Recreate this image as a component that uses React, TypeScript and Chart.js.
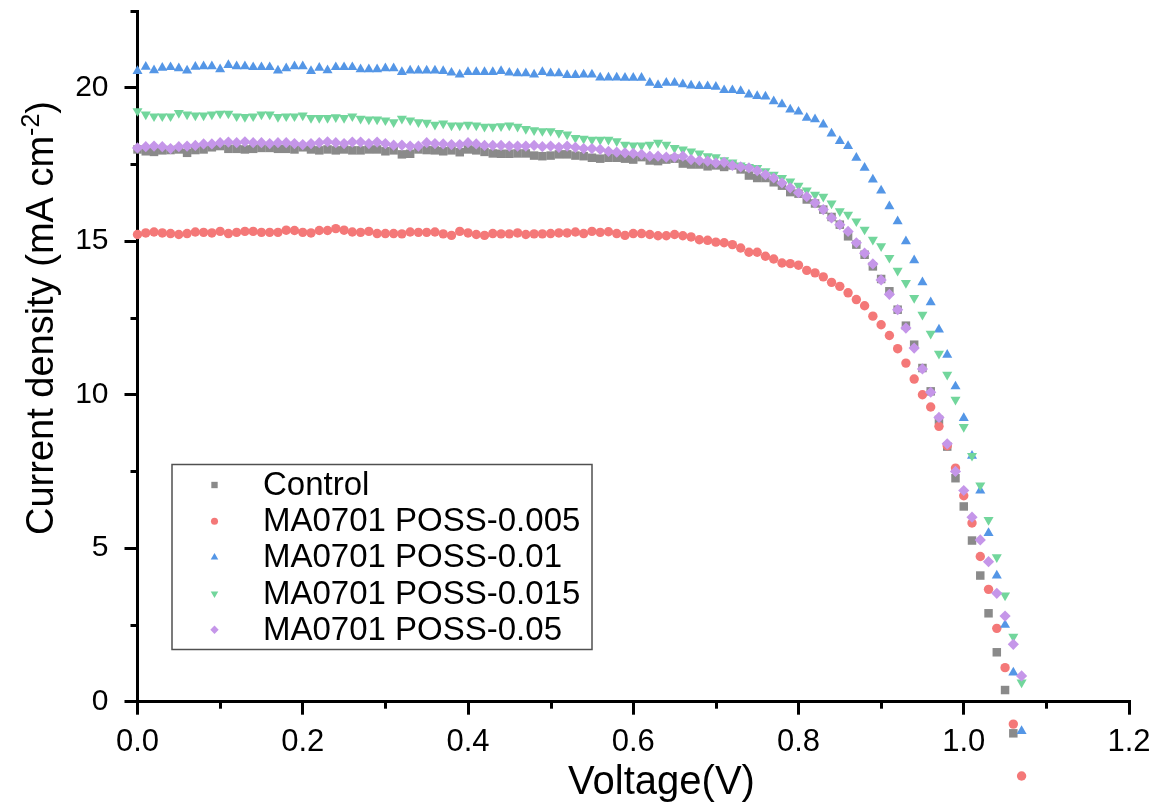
import React, { useEffect, useRef } from 'react';
import { Chart, registerables } from 'chart.js';
import { drawPoint } from 'chart.js/helpers';

Chart.register(...registerables);

// ---------- data ----------
const VOLTAGE = [
  0.00, 0.01, 0.02, 0.03, 0.04, 0.05, 0.06, 0.07, 0.08, 0.09,
  0.10, 0.11, 0.12, 0.13, 0.14, 0.15, 0.16, 0.17, 0.18, 0.19,
  0.20, 0.21, 0.22, 0.23, 0.24, 0.25, 0.26, 0.27, 0.28, 0.29,
  0.30, 0.31, 0.32, 0.33, 0.34, 0.35, 0.36, 0.37, 0.38, 0.39,
  0.40, 0.41, 0.42, 0.43, 0.44, 0.45, 0.46, 0.47, 0.48, 0.49,
  0.50, 0.51, 0.52, 0.53, 0.54, 0.55, 0.56, 0.57, 0.58, 0.59,
  0.60, 0.61, 0.62, 0.63, 0.64, 0.65, 0.66, 0.67, 0.68, 0.69,
  0.70, 0.71, 0.72, 0.73, 0.74, 0.75, 0.76, 0.77, 0.78, 0.79,
  0.80, 0.81, 0.82, 0.83, 0.84, 0.85, 0.86, 0.87, 0.88, 0.89,
  0.90, 0.91, 0.92, 0.93, 0.94, 0.95, 0.96, 0.97, 0.98, 0.99,
  1.00, 1.01, 1.02, 1.03, 1.04, 1.05, 1.06, 1.07,
];

const CONTROL = [
  17.99, 17.93, 17.91, 17.96, 17.97, 17.99, 17.88, 17.97, 17.99, 18.06,
  18.10, 18.01, 18.01, 17.99, 18.01, 18.04, 18.04, 18.01, 18.01, 17.99,
  18.06, 17.99, 17.96, 17.99, 17.96, 17.99, 17.96, 17.96, 17.99, 17.99,
  17.93, 17.96, 17.83, 17.85, 17.99, 17.97, 17.96, 17.93, 17.96, 17.90,
  17.99, 17.96, 17.91, 17.86, 17.85, 17.85, 17.86, 17.86, 17.79, 17.77,
  17.79, 17.83, 17.83, 17.79, 17.77, 17.72, 17.69, 17.72, 17.72, 17.69,
  17.66, 17.74, 17.63, 17.61, 17.66, 17.69, 17.53, 17.50, 17.50, 17.44,
  17.47, 17.42, 17.47, 17.34, 17.14, 17.06, 17.06, 16.92, 16.81, 16.60,
  16.55, 16.36, 16.23, 16.03, 15.79, 15.54, 15.16, 14.89, 14.56, 14.18,
  13.77, 13.37, 12.77, 12.25, 11.63, 10.87, 10.11, 9.18, 8.31, 7.28,
  6.36, 5.25, 4.11, 2.88, 1.61, 0.38, -1.03,
];

const POSS_0005 = [
  15.22, 15.27, 15.30, 15.27, 15.25, 15.22, 15.25, 15.30, 15.29, 15.27,
  15.32, 15.25, 15.29, 15.32, 15.32, 15.29, 15.29, 15.29, 15.36, 15.35,
  15.29, 15.27, 15.35, 15.35, 15.41, 15.36, 15.30, 15.29, 15.32, 15.25,
  15.25, 15.25, 15.24, 15.30, 15.29, 15.29, 15.30, 15.24, 15.19, 15.32,
  15.27, 15.22, 15.19, 15.25, 15.24, 15.24, 15.27, 15.22, 15.24, 15.24,
  15.25, 15.27, 15.27, 15.30, 15.25, 15.32, 15.29, 15.31, 15.25, 15.19,
  15.25, 15.25, 15.22, 15.18, 15.18, 15.22, 15.18, 15.14, 15.05, 15.03,
  14.97, 14.95, 14.89, 14.78, 14.64, 14.64, 14.51, 14.42, 14.29, 14.27,
  14.22, 14.05, 13.97, 13.84, 13.66, 13.53, 13.32, 13.10, 12.90, 12.56,
  12.28, 11.93, 11.50, 11.03, 10.51, 10.00, 9.60, 8.97, 8.34, 7.61,
  6.71, 5.82, 4.73, 3.66, 2.39, 1.11, -0.73, -2.42,
];

const POSS_001 = [
  20.54, 20.68, 20.57, 20.65, 20.67, 20.63, 20.56, 20.68, 20.70, 20.70,
  20.60, 20.74, 20.70, 20.70, 20.67, 20.67, 20.67, 20.56, 20.63, 20.70,
  20.70, 20.54, 20.65, 20.57, 20.67, 20.67, 20.67, 20.60, 20.60, 20.60,
  20.63, 20.63, 20.51, 20.56, 20.56, 20.56, 20.56, 20.54, 20.49, 20.43,
  20.51, 20.51, 20.51, 20.51, 20.54, 20.49, 20.47, 20.47, 20.43, 20.51,
  20.47, 20.47, 20.41, 20.41, 20.43, 20.43, 20.33, 20.33, 20.33, 20.32,
  20.32, 20.32, 20.16, 20.09, 20.16, 20.16, 20.11, 20.07, 20.05, 20.05,
  20.03, 19.92, 19.92, 19.89, 19.78, 19.73, 19.71, 19.56, 19.46, 19.29,
  19.22, 19.02, 18.97, 18.80, 18.51, 18.26, 18.10, 17.72, 17.39, 17.01,
  16.65, 16.14, 15.65, 15.00, 14.38, 13.66, 13.01, 12.12, 11.30, 10.27,
  9.24, 8.01, 6.88, 5.49, 4.11, 2.50, 0.95, -0.96,
];

const POSS_0015 = [
  19.24, 19.13, 19.07, 19.07, 19.07, 19.18, 19.13, 19.10, 19.10, 19.13,
  19.16, 19.16, 19.07, 19.05, 19.07, 19.13, 19.13, 19.05, 19.07, 19.07,
  19.10, 19.02, 19.02, 19.02, 19.04, 19.02, 19.07, 18.99, 18.97, 18.97,
  18.94, 18.88, 18.99, 18.94, 18.88, 18.86, 18.80, 18.84, 18.77, 18.77,
  18.80, 18.77, 18.73, 18.73, 18.75, 18.77, 18.73, 18.66, 18.62, 18.59,
  18.59, 18.53, 18.48, 18.37, 18.34, 18.31, 18.31, 18.31, 18.26, 18.15,
  18.12, 18.12, 18.15, 18.21, 18.15, 18.04, 17.99, 17.93, 17.86, 17.77,
  17.74, 17.64, 17.57, 17.47, 17.42, 17.39, 17.28, 17.17, 17.06, 16.95,
  16.81, 16.66, 16.52, 16.45, 16.23, 15.98, 15.87, 15.65, 15.38, 15.05,
  14.84, 14.46, 14.04, 13.64, 13.15, 12.61, 11.99, 11.34, 10.65, 9.84,
  8.95, 8.01, 7.05, 5.92, 4.71, 3.46, 2.12, 0.63,
];

const POSS_005 = [
  18.04, 18.08, 18.10, 18.08, 18.02, 18.08, 18.10, 18.12, 18.17, 18.17,
  18.21, 18.23, 18.21, 18.24, 18.21, 18.21, 18.18, 18.21, 18.21, 18.18,
  18.15, 18.18, 18.21, 18.24, 18.21, 18.18, 18.23, 18.23, 18.18, 18.23,
  18.18, 18.13, 18.13, 18.10, 18.10, 18.21, 18.18, 18.17, 18.15, 18.15,
  18.21, 18.17, 18.12, 18.12, 18.12, 18.10, 18.10, 18.10, 18.12, 18.08,
  18.10, 18.06, 18.10, 18.06, 18.02, 18.02, 17.99, 17.93, 17.90, 17.88,
  17.86, 17.83, 17.77, 17.77, 17.74, 17.74, 17.77, 17.66, 17.63, 17.61,
  17.55, 17.57, 17.47, 17.42, 17.39, 17.30, 17.17, 17.06, 16.90, 16.74,
  16.58, 16.45, 16.25, 16.03, 15.76, 15.54, 15.32, 14.95, 14.61, 14.26,
  13.74, 13.27, 12.77, 12.17, 11.52, 10.84, 10.08, 9.26, 8.40, 7.50,
  6.88, 6.01, 5.27, 4.56, 3.53, 2.79, 1.87, 0.84,
];

const SERIES_NAMES = [
  'Control',
  'MA0701 POSS-0.005',
  'MA0701 POSS-0.01',
  'MA0701 POSS-0.015',
  'MA0701 POSS-0.05',
];
const SERIES_VALUES = [CONTROL, POSS_0005, POSS_001, POSS_0015, POSS_005];

const X_TICKS = [0.0, 0.2, 0.4, 0.6, 0.8, 1.0, 1.2];
const X_MINOR = [0.1, 0.3, 0.5, 0.7, 0.9, 1.1];
const Y_TICKS = [0, 5, 10, 15, 20];
const Y_MINOR = [2.5, 7.5, 12.5, 17.5, 22.5];

const X_TITLE = 'Voltage(V)';
const Y_TITLE_MAIN = 'Current density (mA cm';
const Y_TITLE_SUP = '-2';
const Y_TITLE_END = ')';

// ---------- styles ----------
const FONT = '"Liberation Sans", Arial, sans-serif';
const MARKERS = [
  { color: '#8a8a8a', style: 'rect', radius: 6, rotation: 0 },
  { color: '#f47878', style: 'circle', radius: 4.7, rotation: 0 },
  { color: '#5496e6', style: 'triangle', radius: 5.8, rotation: 0 },
  { color: '#72d69c', style: 'triangle', radius: 5.8, rotation: 180 },
  { color: '#c596e9', style: 'rectRot', radius: 5.6, rotation: 0 },
];

// Chart.js skips points that fall outside the chart area; the reference
// shows the negative-current points below the x axis, so draw those here
// at the positions computed by the chart's own scales.
const outsidePointsPlugin = {
  id: 'outsidePoints',
  afterDatasetsDraw(chart: any) {
    const { ctx, chartArea } = chart;
    ctx.save();
    const metas = chart.getSortedVisibleDatasetMetas().slice().reverse();
    metas.forEach((meta: any) => {
      const m = MARKERS[meta.index];
      ctx.fillStyle = m.color;
      meta.data.forEach((el: any) => {
        if (el.y > chartArea.bottom + 0.5) {
          drawPoint(ctx, { pointStyle: m.style, radius: m.radius, rotation: m.rotation, borderWidth: 0 } as any, el.x, el.y);
        }
      });
    });
    ctx.restore();
  },
};

const decorPlugin = {
  id: 'decor',
  afterDraw(chart: any) {
    const { ctx, chartArea } = chart;
    const xs = chart.scales.x;
    const ys = chart.scales.y;
    ctx.save();
    // minor ticks
    ctx.strokeStyle = '#000';
    ctx.lineWidth = 3;
    X_MINOR.forEach((v) => {
      const px = Math.round(xs.getPixelForValue(v)) + 0.5;
      ctx.beginPath();
      ctx.moveTo(px, chartArea.bottom);
      ctx.lineTo(px, chartArea.bottom + 7);
      ctx.stroke();
    });
    Y_MINOR.forEach((v) => {
      const py = Math.round(ys.getPixelForValue(v)) + 0.5;
      ctx.beginPath();
      ctx.moveTo(chartArea.left, py);
      ctx.lineTo(chartArea.left - 7, py);
      ctx.stroke();
    });

    // x title
    ctx.fillStyle = '#000';
    ctx.font = `40px ${FONT}`;
    ctx.textAlign = 'center';
    ctx.textBaseline = 'alphabetic';
    ctx.fillText(X_TITLE, chartArea.left + 524, 794);

    // y title with superscript
    const mainF = `38px ${FONT}`;
    const supF = `25px ${FONT}`;
    ctx.font = mainF;
    const w1 = ctx.measureText(Y_TITLE_MAIN).width;
    const w3 = ctx.measureText(Y_TITLE_END).width;
    ctx.font = supF;
    const w2 = ctx.measureText(Y_TITLE_SUP).width;
    const total = w1 + w2 + w3;
    ctx.translate(53, 318);
    ctx.rotate(-Math.PI / 2);
    ctx.textAlign = 'left';
    const x0 = -total / 2;
    ctx.font = mainF;
    ctx.fillText(Y_TITLE_MAIN, x0, 0);
    ctx.font = supF;
    ctx.fillText(Y_TITLE_SUP, x0 + w1, -14);
    ctx.font = mainF;
    ctx.fillText(Y_TITLE_END, x0 + w1 + w2, 0);
    ctx.setTransform(1, 0, 0, 1, 0, 0);

    // legend
    const lx = chartArea.left + 34.5;
    const ly = chartArea.top + 453.5;
    ctx.strokeStyle = '#505050';
    ctx.lineWidth = 1.5;
    ctx.strokeRect(lx, ly, 420, 185);
    ctx.font = `33px ${FONT}`;
    ctx.textAlign = 'left';
    ctx.textBaseline = 'middle';
    SERIES_NAMES.forEach((name, i) => {
      const cy = ly + 20.5 + 36.2 * i;
      const m = MARKERS[i];
      ctx.fillStyle = m.color;
      drawPoint(ctx, { pointStyle: m.style, radius: m.radius * 0.75, rotation: m.rotation, borderWidth: 0 } as any, lx + 42.5, cy);
      ctx.fillStyle = '#000';
      ctx.fillText(name, lx + 91, cy + 1);
    });
    ctx.restore();
  },
};

export default function App() {
  const ref = useRef<HTMLCanvasElement>(null);
  useEffect(() => {
    const datasets = SERIES_NAMES.map((name, i) => ({
      label: name,
      data: SERIES_VALUES[i].map((y, k) => ({ x: VOLTAGE[k], y })),
      showLine: false,
      pointStyle: MARKERS[i].style,
      pointRadius: MARKERS[i].radius,
      pointRotation: MARKERS[i].rotation,
      pointBackgroundColor: MARKERS[i].color,
      pointBorderWidth: 0,
      pointBorderColor: MARKERS[i].color,
      pointHoverRadius: MARKERS[i].radius,
      clip: false as any,
      order: SERIES_NAMES.length - 1 - i,
    }));
    const chart = new Chart(ref.current!, {
      type: 'scatter',
      data: { datasets },
      options: {
        animation: false,
        responsive: false,
        devicePixelRatio: 1,
        layout: { padding: { top: 11, right: 28, left: 0, bottom: 0 } },
        plugins: { legend: { display: false }, tooltip: { enabled: false } },
        scales: {
          x: {
            type: 'linear',
            min: 0,
            max: 1.2,
            afterBuildTicks: (s: any) => { s.ticks = X_TICKS.map((v) => ({ value: v })); },
            afterFit: (s: any) => { s.height = 100.3; s.paddingLeft = 0; s.paddingRight = 0; },
            ticks: {
              callback: (v: any) => Number(v).toFixed(1),
              font: { family: FONT, size: 31 },
              color: '#000',
              padding: 9,
              maxRotation: 0,
              autoSkip: false,
            },
            grid: { drawOnChartArea: false, tickLength: 13, tickWidth: 3, tickColor: '#000', lineWidth: 3, color: '#000' },
            border: { display: true, width: 3, color: '#000' },
          },
          y: {
            type: 'linear',
            min: 0,
            max: 22.5,
            afterBuildTicks: (s: any) => { s.ticks = Y_TICKS.map((v) => ({ value: v })); },
            afterFit: (s: any) => { s.width = 137.5; s.paddingTop = 0; s.paddingBottom = 0; },
            ticks: {
              font: { family: FONT, size: 30 },
              color: '#000',
              padding: 16,
              autoSkip: false,
            },
            grid: { drawOnChartArea: false, tickLength: 13, tickWidth: 3, tickColor: '#000', lineWidth: 3, color: '#000' },
            border: { display: true, width: 3, color: '#000' },
          },
        },
      },
      plugins: [outsidePointsPlugin, decorPlugin],
    });
    return () => chart.destroy();
  }, []);
  return (
    <div style={{ position: 'fixed', left: 0, top: 0, width: 1157, height: 802, background: '#fff' }}>
      <canvas ref={ref} width={1157} height={802} style={{ width: 1157, height: 802, display: 'block' }} />
    </div>
  );
}
